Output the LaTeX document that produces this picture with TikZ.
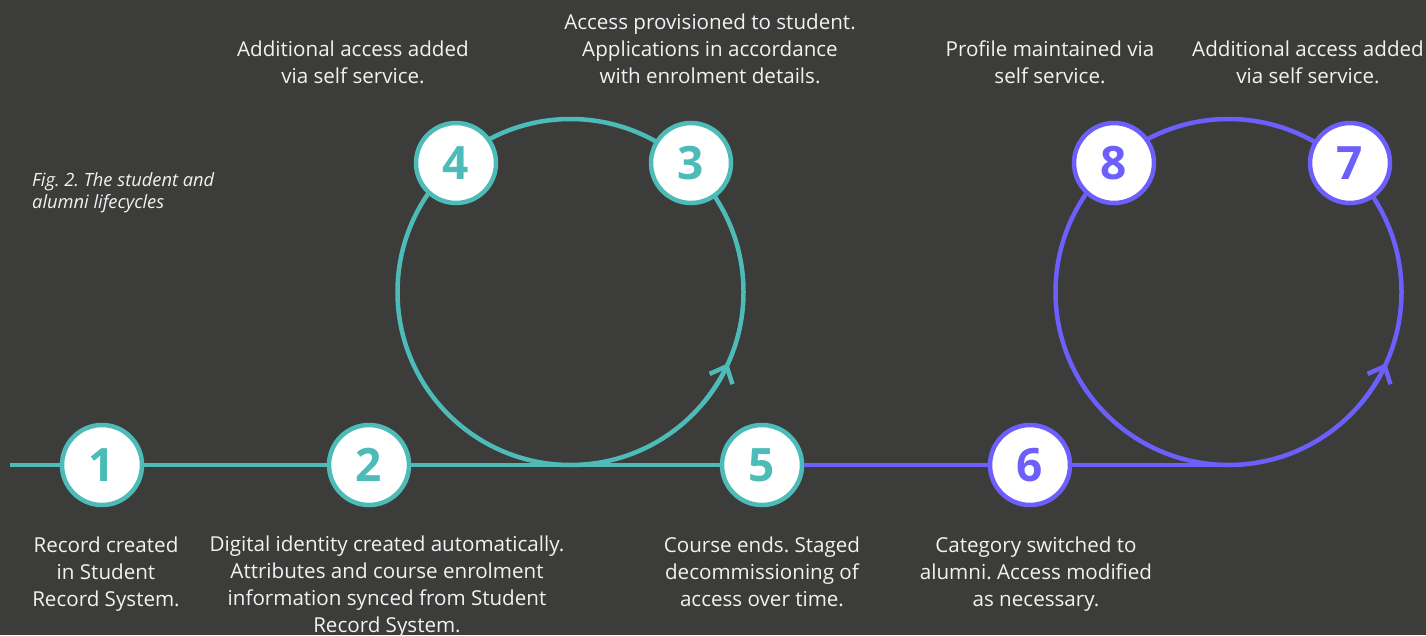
\documentclass[tikz,border=0pt]{standalone}
\usepackage{fontspec}
\setmainfont{Open Sans}
\usetikzlibrary{arrows.meta}
\definecolor{bg}{HTML}{3C3C3A}
\definecolor{tealc}{HTML}{4DBBB7}
\definecolor{purpc}{HTML}{6C5FFC}
\definecolor{txtc}{HTML}{F2F2F2}
\begin{document}
\frenchspacing
\begin{tikzpicture}[x=1pt,y=-1pt,
  num/.style={circle, draw=#1, fill=white, line width=4.5pt, minimum size=80pt, inner sep=0pt, text=#1, font=\fontsize{46}{46}\selectfont\bfseries},
  lbl/.style={text=txtc, align=center, font=\fontsize{20.6}{26.7}\selectfont\frenchspacing, anchor=base, inner sep=0pt},
  ln/.style={line width=4.5pt, draw=#1},
  tip/.style={line width=4.5pt, draw=#1, -{Straight Barb[length=14pt,width=25pt]}}
]
\fill[bg] (0,0) rectangle (1426,635);
\useasboundingbox (0,0) rectangle (1426,635);

% loop centres and line ends
\coordinate (c1) at (570.5,292);
\coordinate (c2) at (1228.5,292);
\coordinate (start) at (10,465);
\coordinate (t2) at (1228.5,465);

% loops
\draw[ln=tealc] (c1) circle[radius=173];
\draw[ln=purpc] (c2) circle[radius=173];
\draw[tip=tealc] (c1) ++(40:173) arc[start angle=40, end angle=24.3, radius=173];
\draw[tip=purpc] (c2) ++(40:173) arc[start angle=40, end angle=24.3, radius=173];

% numbered nodes
\node[num=tealc] (n1) at (102,465) {1};
\node[num=tealc] (n2) at (369,465) {2};
\node[num=tealc] (n3) at (691,163) {3};
\node[num=tealc] (n4) at (456,163) {4};
\node[num=tealc] (n5) at (762,465) {5};
\node[num=purpc] (n6) at (1030,465) {6};
\node[num=purpc] (n7) at (1350,163) {7};
\node[num=purpc] (n8) at (1114,163) {8};

% connectors
\draw[ln=tealc] (start) -- (n1);
\draw[ln=tealc] (n1) -- (n2);
\draw[ln=tealc] (n2) -- (n5);
\draw[ln=purpc] (n5) -- (n6);
\draw[ln=purpc] (n6) -- (t2);

% caption
\node[text=txtc, align=left, anchor=base west, inner sep=0pt, font=\fontsize{18.3}{22}\selectfont\itshape\frenchspacing] (cap) at (32,208) {Fig. 2. The student and\\alumni lifecycles};

% top labels (anchored at the baseline of the last line)
\node[lbl] (l4) at (353,83) {Additional access added\\via self service.};
\node[lbl] (l3) at (710,83) {Access provisioned to student.\\Applications in accordance\\with enrolment details.};
\node[lbl] (l8) at (1050,83) {Profile maintained via\\self service.};
\node[lbl] (l7) at (1308,83) {Additional access added\\via self service.};

% bottom labels
\node[lbl] (l1) at (106,606) {Record created\\in Student\\Record System.};
\node[lbl] (l2) at (387,632) {Digital identity created automatically.\\Attributes and course enrolment\\information synced from Student\\Record System.};
\node[lbl] (l5) at (762,606) {Course ends. Staged\\decommissioning of\\access over time.};
\node[lbl] (l6) at (1036,606) {Category switched to\\alumni. Access modified\\as necessary.};
\end{tikzpicture}
\end{document}
